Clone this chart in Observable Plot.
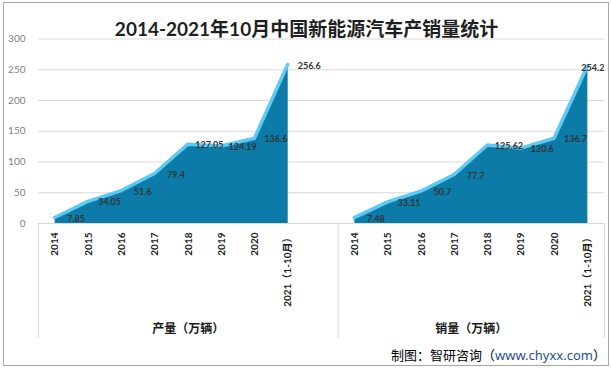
<!DOCTYPE html>
<html><head><meta charset="utf-8">
<script src="https://cdn.jsdelivr.net/npm/d3@7"></script>
<script src="https://cdn.jsdelivr.net/npm/@observablehq/plot@0.6"></script>
<style>
body{margin:0;background:#fff;}
#wrap{position:relative;width:611px;height:369px;overflow:hidden;background:#fff;}
#border{position:absolute;left:3px;top:2px;width:604px;height:362px;border:1px solid #a6a6a6;pointer-events:none;}
#caption{position:absolute;right:5px;top:347px;font-size:13px;line-height:16px;font-family:"Noto Sans CJK SC",sans-serif;color:#000;white-space:nowrap;}
#caption span{color:#1f4e9a;font-family:"Noto Sans","Noto Sans CJK SC",sans-serif;}
</style></head><body>
<div id="wrap"><div id="chart"></div><div id="border"></div><div id="caption">制图：智研咨询（<span>www.chyxx.com</span>）</div></div>
<script>
const title = "2014-2021年10月中国新能源汽车产销量统计";
const groups = ["产量（万辆）", "销量（万辆）"];
const years = ["2014", "2015", "2016", "2017", "2018", "2019", "2020", "2021（1-10月）"];
const production = [7.85, 34.05, 51.6, 79.4, 127.05, 124.19, 136.6, 256.6];
const sales = [7.48, 33.11, 50.7, 77.7, 125.62, 120.6, 136.7, 254.2];
const yTicks = [0, 50, 100, 150, 200, 250, 300];

// build category rows: group 1, blank spacer, group 2
const rows = [];
const bounds = [-0.5];
[production, sales].forEach((vals, g) => {
  vals.forEach((v, k) => rows.push({i: rows.length, label: years[k], value: v, group: g}));
  if (g === 0) rows.push({i: rows.length, label: "", value: null, group: g});
  bounds.push(rows.length - 0.5);
});
const groupCenters = groups.map((name, g) => ({name, x: (bounds[g] + bounds[g + 1]) / 2}));
const lastIdx = rows.length - 1;
const labelled = rows.filter(d => d.value != null);

const chart = Plot.plot({
  width: 611,
  height: 369,
  marginLeft: 38,
  marginRight: 7,
  marginTop: 38.5,
  marginBottom: 146,
  style: {fontFamily: "Lato, 'Noto Sans CJK SC', sans-serif", background: "transparent"},
  x: {type: "linear", domain: [bounds[0], bounds[bounds.length - 1]]},
  y: {domain: [0, 300]},
  marks: [
    Plot.gridY({ticks: yTicks, stroke: "#d9d9d9", strokeOpacity: 1}),
    Plot.ruleY([0], {stroke: "#d9d9d9"}),
    Plot.ruleX(bounds, {stroke: "#d9d9d9", insetTop: 184.5, insetBottom: -115}),
    Plot.areaY(rows, {x: "i", y1: 0, y2: "value", fill: "#0c7ba7"}),
    Plot.lineY(rows, {x: "i", y: "value", stroke: "#5ec9f2", strokeWidth: 3.5, dy: -1.2, dx: -0.5}),
    Plot.text(labelled.filter(d => d.i !== lastIdx), {x: "i", y: "value", text: d => String(d.value), dx: 21, fontSize: 9, fontWeight: "bold", fill: "#333"}),
    Plot.text(labelled.filter(d => d.i === lastIdx), {x: "i", y: "value", text: d => String(d.value), dx: 5, dy: 1, fontSize: 9, fontWeight: "bold", fill: "#333"}),
    Plot.axisY({ticks: yTicks, tickSize: 0, tickPadding: 13, fontSize: 10, fill: "#7f7f7f", label: null}),
    Plot.axisX({ticks: rows.map(d => d.i), tickFormat: i => rows[Math.round(i)] ? rows[Math.round(i)].label : "", tickRotate: -90, tickSize: 0, tickPadding: 9, fontSize: 10, fontWeight: "bold", fill: "#1a1a1a", label: null}),
    Plot.text(groupCenters, {x: "x", text: "name", frameAnchor: "bottom", dy: 109, fontSize: 12, fontWeight: "bold", fill: "#1a1a1a"}),
    Plot.text([title], {frameAnchor: "top", dx: -15, dy: -16.5, fontSize: 19, fontWeight: "bold", fill: "#1f1f1f"})
  ]
});
document.getElementById("chart").appendChild(chart);
</script>
</body></html>
